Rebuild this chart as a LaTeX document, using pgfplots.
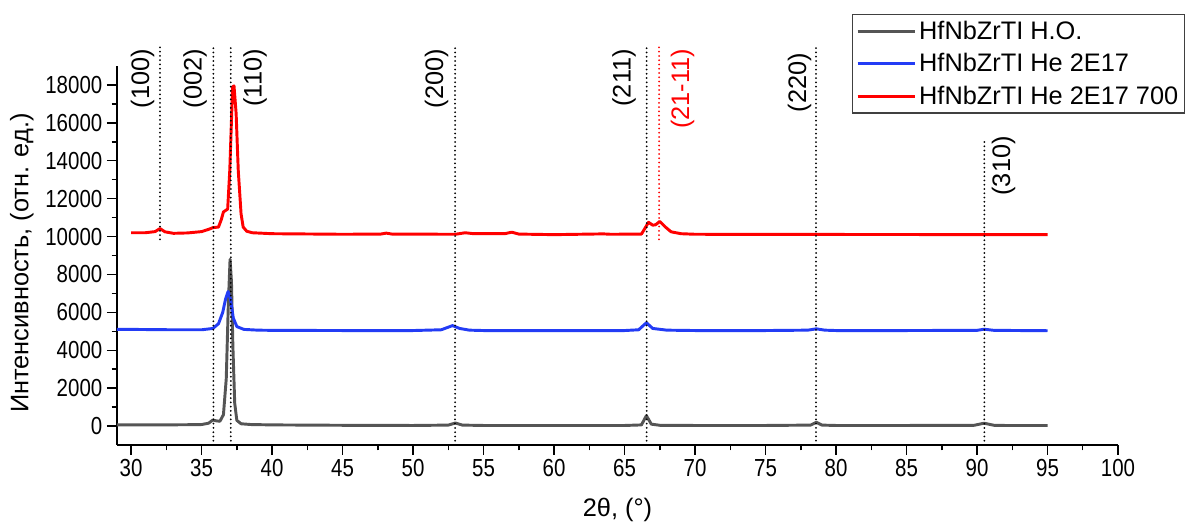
\documentclass[border=0pt]{standalone}
\usepackage{fontspec}
\setmainfont{Liberation Sans}
\newfontfamily\tickfont[FakeStretch=0.83]{Liberation Sans}
\usepackage{pgfplots}
\pgfplotsset{compat=1.18}

\definecolor{cgray}{RGB}{85,85,85}
\definecolor{cblue}{RGB}{35,60,245}
\definecolor{cred}{RGB}{255,0,0}

\newcommand{\lblfont}{\fontsize{19}{22}\selectfont}
\tikzset{refl/.style={line width=1.5pt, line cap=round, dash pattern=on 0pt off 3.2pt}}

\begin{document}
\begin{tikzpicture}
\begin{axis}[
  scale only axis, width=750.75pt, height=284.25pt,
  xmin=29, xmax=100, ymin=-1000, ymax=19000,
  axis x line*=bottom, axis y line*=left,
  axis line style={line width=1.1pt},
  xtick={30,35,...,100}, minor x tick num=1,
  ytick={0,2000,...,18000}, minor y tick num=1,
  tick align=outside, major tick length=7.5pt, minor tick length=4pt,
  tick style={black, line width=1.1pt},
  /pgf/number format/assume math mode=true,
  scaled y ticks=false,
  y tick label style={/pgf/number format/1000 sep={}},
  tick label style={font=\tickfont\fontsize{18.5}{20}\selectfont},
  xlabel={2θ, (°)}, ylabel={Интенсивность, (отн. ед.)},
  label style={font=\lblfont},
  xlabel style={at={(axis description cs:0.5,-0.171)}, anchor=center},
  ylabel style={at={(axis description cs:-0.095,0.48)}, anchor=center},
  clip=false,
  legend style={at={(0.734,1.137)}, anchor=north west, draw=black!75,
    line width=0.8pt, font=\lblfont, inner sep=3pt, row sep=5pt},
  legend cell align=left,
  legend image code/.code={\draw[#1] (0pt,0pt) -- (43pt,0pt);},
]
% H.O.
\addplot[cgray, line width=2.2pt, line join=round] coordinates {
(29,60) (30,60) (32,60) (34,70) (35,80) (35.5,150) (35.8,320) (36.0,280)
(36.3,250) (36.55,600) (36.75,2500) (36.9,6500) (37.02,8800) (37.12,7600)
(37.22,4200) (37.35,1200) (37.5,300) (37.8,120) (38.5,80) (40,60) (45,40)
(50,30) (52.5,50) (53.0,160) (53.5,50) (55,30) (60,30) (65,30) (66.2,60)
(66.55,550) (66.9,100) (67.5,40) (70,30) (75,30) (78.2,50) (78.6,200)
(79.0,50) (80,30) (85,30) (89.8,40) (90.5,150) (91.2,40) (92,30) (95,30)
};
\addlegendentry{HfNbZrTI H.O.}
% He 2E17
\addplot[cblue, line width=2.2pt, line join=round] coordinates {
(29,5100) (30,5100) (33,5080) (35,5080) (35.8,5150) (36.2,5400) (36.5,6000)
(36.7,6700) (36.88,7100) (37.05,6700) (37.25,5700) (37.5,5250) (38,5100)
(39,5060) (40,5050) (45,5040) (50,5040) (52,5080) (52.8,5300) (53.3,5150)
(54,5060) (55,5040) (60,5040) (65,5040) (66.0,5080) (66.55,5450) (67.0,5150)
(68,5060) (70,5040) (75,5040) (78.0,5060) (78.6,5130) (79.2,5060) (80,5040)
(85,5040) (90,5050) (90.5,5110) (91.2,5050) (95,5030)
};
\addlegendentry{HfNbZrTI He 2E17}
% He 2E17 700
\addplot[cred, line width=2.2pt, line join=round] coordinates {
(30,10200) (31,10200) (31.7,10260) (32.05,10420) (32.4,10250) (33,10170)
(34,10190) (35,10260) (35.5,10380) (35.8,10470) (36.2,10500) (36.4,10900)
(36.55,11300) (36.85,11450) (37.0,13500) (37.2,17900) (37.3,17950)
(37.45,16500) (37.6,13500) (37.8,11200) (37.95,10500) (38.2,10280)
(38.6,10200) (40,10150) (45,10120) (47.7,10130) (48.1,10180) (48.5,10130)
(53,10120) (53.7,10200) (54.3,10150) (56.5,10150) (57,10230) (57.5,10130)
(60,10100) (63.5,10140) (64,10120) (66.2,10130) (66.5,10500) (66.7,10750)
(67.0,10600) (67.2,10620) (67.5,10800) (67.9,10500) (68.3,10250) (69,10150)
(70,10120) (80,10110) (95,10100)
};
\addlegendentry{HfNbZrTI He 2E17 700}
% reflex positions
\addplot[black, refl, forget plot] coordinates {(32.05,9850) (32.05,20000)};
\addplot[black, refl, forget plot] coordinates {(35.84,-1000) (35.84,20000)};
\addplot[black, refl, forget plot] coordinates {(37.07,-1000) (37.07,20000)};
\addplot[black, refl, forget plot] coordinates {(52.98,-1000) (52.98,20000)};
\addplot[black, refl, forget plot] coordinates {(66.57,-1000) (66.57,20000)};
\addplot[cred, refl, forget plot] coordinates {(67.45,9850) (67.45,20000)};
\addplot[black, refl, forget plot] coordinates {(78.58,-1000) (78.58,20000)};
\addplot[black, refl, forget plot] coordinates {(90.52,-1000) (90.52,15000)};
\begin{scope}[every node/.style={rotate=90, anchor=east, inner sep=0pt, font=\lblfont}]
\node at (axis cs:30.82,19900) {(100)};
\node at (axis cs:34.54,19900) {(002)};
\node at (axis cs:38.79,19900) {(110)};
\node at (axis cs:51.67,19900) {(200)};
\node at (axis cs:64.96,19900) {(211)};
\node[text=cred] at (axis cs:69.11,19900) {(21-11)};
\node at (axis cs:77.41,19700) {(220)};
\node at (axis cs:91.88,15300) {(310)};
\end{scope}
\end{axis}
\pgfresetboundingbox
\path[use as bounding box] (-87.75pt,-59.25pt) rectangle (804.75pt,333.75pt);
\end{tikzpicture}
\end{document}
